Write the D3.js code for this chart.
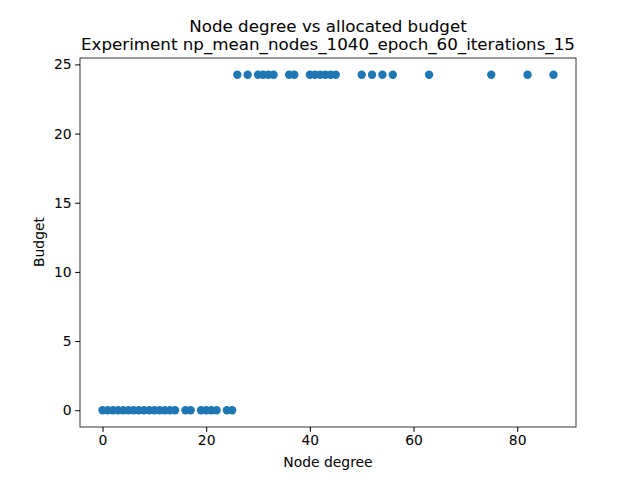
<!DOCTYPE html>
<html>
<head>
<meta charset="utf-8">
<script src="https://cdn.jsdelivr.net/npm/d3@7"></script>
<style>
  body { margin: 0; background: #fff; }
  text { font-family: "DejaVu Sans", sans-serif; }
</style>
</head>
<body>
<svg id="chart" width="640" height="480"></svg>
<script>
// degrees of nodes with zero budget and with the full budget
var lowDegrees = [0, 1, 2, 3, 4, 5, 6, 7, 8, 9, 10, 11, 12, 13, 14, 16, 17, 19, 20, 21, 22, 24, 25];
var highDegrees = [26, 28, 30, 31, 32, 33, 36, 37, 40, 41, 42, 43, 44, 45, 50, 52, 54, 56, 63, 75, 82, 87];
var lowBudget = 0;
var highBudget = 24.25;
var xTicks = [0, 20, 40, 60, 80];
var yTicks = [0, 5, 10, 15, 20, 25];

var points = lowDegrees.map(function(d) { return [d, lowBudget]; })
  .concat(highDegrees.map(function(d) { return [d, highBudget]; }));

var svg = d3.select("#chart");
var m = { left: 80, right: 576, top: 58, bottom: 427 };

var x = d3.scaleLinear().domain([-4.35, 91.35]).range([m.left, m.right]);
var y = d3.scaleLinear().domain([-1.2125, 25.4625]).range([m.bottom, m.top]);

svg.append("g").attr("transform", "translate(0," + m.bottom + ")")
  .call(d3.axisBottom(x).tickValues(xTicks).tickSize(4.9).tickPadding(3.5))
  .call(function(g) { g.select(".domain").remove(); g.selectAll("text").attr("font-size", 13.9).attr("fill", "#000"); });
svg.append("g").attr("transform", "translate(" + m.left + ",0)")
  .call(d3.axisLeft(y).tickValues(yTicks).tickSize(4.9).tickPadding(3.5))
  .call(function(g) { g.select(".domain").remove(); g.selectAll("text").attr("font-size", 13.9).attr("fill", "#000"); });

svg.append("g").selectAll("circle").data(points).enter().append("circle")
  .attr("cx", function(d) { return x(d[0]); })
  .attr("cy", function(d) { return y(d[1]); })
  .attr("r", 4.2)
  .attr("fill", "#1f77b4");

svg.append("rect").attr("x", m.left).attr("y", m.top)
  .attr("width", m.right - m.left).attr("height", m.bottom - m.top)
  .attr("fill", "none").attr("stroke", "#000").attr("stroke-width", 0.8);

svg.append("text").attr("x", 328).attr("y", 32).attr("text-anchor", "middle")
  .attr("font-size", 16.7).text("Node degree vs allocated budget");
svg.append("text").attr("x", 328).attr("y", 50).attr("text-anchor", "middle")
  .attr("font-size", 16.7).text("Experiment np_mean_nodes_1040_epoch_60_iterations_15");
svg.append("text").attr("x", 328).attr("y", 467).attr("text-anchor", "middle")
  .attr("font-size", 13.9).text("Node degree");
svg.append("text").attr("transform", "translate(44,242) rotate(-90)").attr("text-anchor", "middle")
  .attr("font-size", 13.9).text("Budget");
</script>
</body>
</html>
